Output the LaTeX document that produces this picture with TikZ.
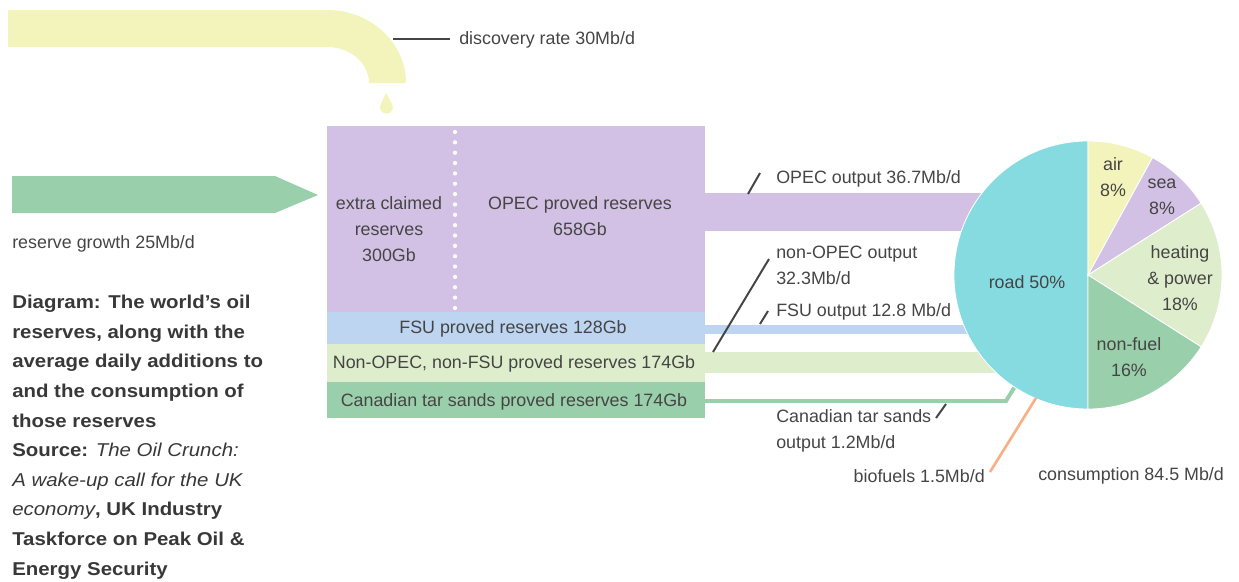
\documentclass[tikz,border=0pt]{standalone}
\usepackage{fontspec}
\setmainfont{Liberation Sans}
\newfontfamily\captionfont[FakeStretch=1.1]{Liberation Sans}
\usepackage{tikz}
\definecolor{tapyellow}{HTML}{F2F4BB}
\definecolor{opec}{HTML}{D3C1E5}
\definecolor{fsu}{HTML}{BDD5F0}
\definecolor{nonopec}{HTML}{DEEECC}
\definecolor{tarsand}{HTML}{9ACFAB}
\definecolor{road}{HTML}{86DBE0}
\definecolor{biofuel}{HTML}{F9AF88}
\definecolor{textgrey}{HTML}{454545}
\definecolor{captiongrey}{HTML}{383838}

\begin{document}
\begin{tikzpicture}[x=0.025cm, y=-0.025cm,
		lbl/.style={text=textgrey, inner sep=0pt, font=\fontsize{12.7}{18.4}\selectfont},
		leader/.style={draw=textgrey, line width=1.4pt},
		slice/.style={draw=white, line width=0.6pt}]
		\useasboundingbox (0,0) rectangle (1239,581);

		% tap with its drop, and the growth arrow
		\fill[tapyellow] (8,10) -- (327,10) .. controls (371,10) and (406,43) .. (406,83) -- (369,83) .. controls (369,63) and (350,47) .. (327,47) -- (8,47) -- cycle;
		\fill[tapyellow] (386,93) -- ++(-5.4,11.5) arc[start angle=155.4, end angle=384.6, radius=0.16cm] -- cycle;
		\fill[tarsand] (12,176) -- (275,176) -- (318,195) -- (275,213) -- (12,213) -- cycle;

		% outputs, running under the pie
		\fill[opec] (700,193) rectangle (1040,231);
		\fill[fsu] (700,325) rectangle (1040,334);
		\fill[nonopec] (700,352) rectangle (1040,373);
		\draw[tarsand, line width=2.8pt] (700,401) -- (1006,401) -- (1017,383);

		% reserves
		\fill[opec] (327,126) rectangle (705,312);
		\fill[fsu] (327,312) rectangle (705,344);
		\fill[nonopec] (327,344) rectangle (705,382);
		\fill[tarsand] (327,382) rectangle (705,418);
		\foreach \i in {0,...,17}
		\fill[white] (455,{132+\i*10.35}) circle (1.5pt);

		\node[lbl, align=center] (claimed) at (389,229) {extra claimed\\reserves\\300Gb};
		\node[lbl, align=center] (opecres) at (580,216) {OPEC proved reserves\\658Gb};
		\node[lbl] (fsures) at (513,329) {FSU proved reserves 128Gb};
		\node[lbl] (nonopecres) at (514,364) {Non-OPEC, non-FSU proved reserves 174Gb};
		\node[lbl] (tarres) at (514,402) {Canadian tar sands proved reserves 174Gb};

		% consumption pie
		\coordinate (pc) at (1088,275);
		\filldraw[slice, fill=road] (pc) -- ++(90:3.35cm) arc[start angle=90, end angle=270, radius=3.35cm] -- cycle;
		\foreach \s/\e/\col in {90/61.2/tapyellow, 61.2/32.4/opec, 32.4/-32.4/nonopec, -32.4/-90/tarsand}
		\filldraw[slice, fill=\col] (pc) -- ++(\s:3.35cm) arc[start angle=\s, end angle=\e, radius=3.35cm] -- cycle;

		\node[lbl] (road) at (1027,282) {road 50\%};
		\node[lbl, align=center] (air) at (1113,177) {air\\8\%};
		\node[lbl, align=center] (sea) at (1162,197) {sea\\8\%};
		\node[lbl, align=center] (heating) at (1180,278) {heating\\\& power\\18\%};
		\node[lbl, align=center] (nonfuel) at (1129,357) {non-fuel\\16\%};

		% labels and their leaders
		\node[lbl, anchor=west] (discovery) at (459,40) {discovery rate 30Mb/d};
		\node[lbl, anchor=west] (growth) at (12,244) {reserve growth 25Mb/d};
		\node[lbl, anchor=west] (opecout) at (776,179) {OPEC output 36.7Mb/d};
		\node[lbl, anchor=west, align=left] (nonopecout) at (776,265) {non-OPEC output\\32.3Mb/d};
		\node[lbl, anchor=west] (fsuout) at (776,312) {FSU output 12.8 Mb/d};
		\node[lbl, anchor=west, align=left] (tarout) at (776,431) {Canadian tar sands\\output 1.2Mb/d};
		\node[lbl, anchor=east] (biofuels) at (985,476) {biofuels 1.5Mb/d};
		\node[lbl, anchor=west] (consumption) at (1038,476) {consumption 84.5 Mb/d};

		\coordinate (discA) at (393,39);
		\coordinate (discB) at (450,39);
		\coordinate (opecA) at (748,194);
		\coordinate (opecB) at (760,173);
		\coordinate (nonA) at (713,352);
		\coordinate (nonB) at (769,259);
		\coordinate (fsuA) at (760,324);
		\coordinate (fsuB) at (768,311);
		\coordinate (tarA) at (936,418);
		\coordinate (tarB) at (946,404);
		\coordinate (bioA) at (990,472);
		\coordinate (bioB) at (1036,398);
		\draw[leader, line width=1.8pt] (discA) -- (discB);
		\draw[leader] (opecA) -- (opecB);
		\draw[leader] (nonA) -- (nonB);
		\draw[leader] (fsuA) -- (fsuB);
		\draw[leader] (tarA) -- (tarB);
		\draw[biofuel, line width=1.9pt] (bioA) -- (bioB);

		% caption
		\node[anchor=north west, align=left, inner sep=0pt, text=captiongrey,
		font=\captionfont\fontsize{13.2}{21.05}\selectfont\bfseries] (caption) at (12,295)
		{Diagram: The world’s oil\\
			reserves, along with the\\
			average daily additions to\\
			and the consumption of\\
			those reserves\\
			Source: {\mdseries\itshape The Oil Crunch:}\\
			{\mdseries\itshape A wake-up call for the UK}\\
			{\mdseries\itshape economy}, UK Industry\\
			Taskforce on Peak Oil \&\\
			Energy Security};
	\end{tikzpicture}
\end{document}
